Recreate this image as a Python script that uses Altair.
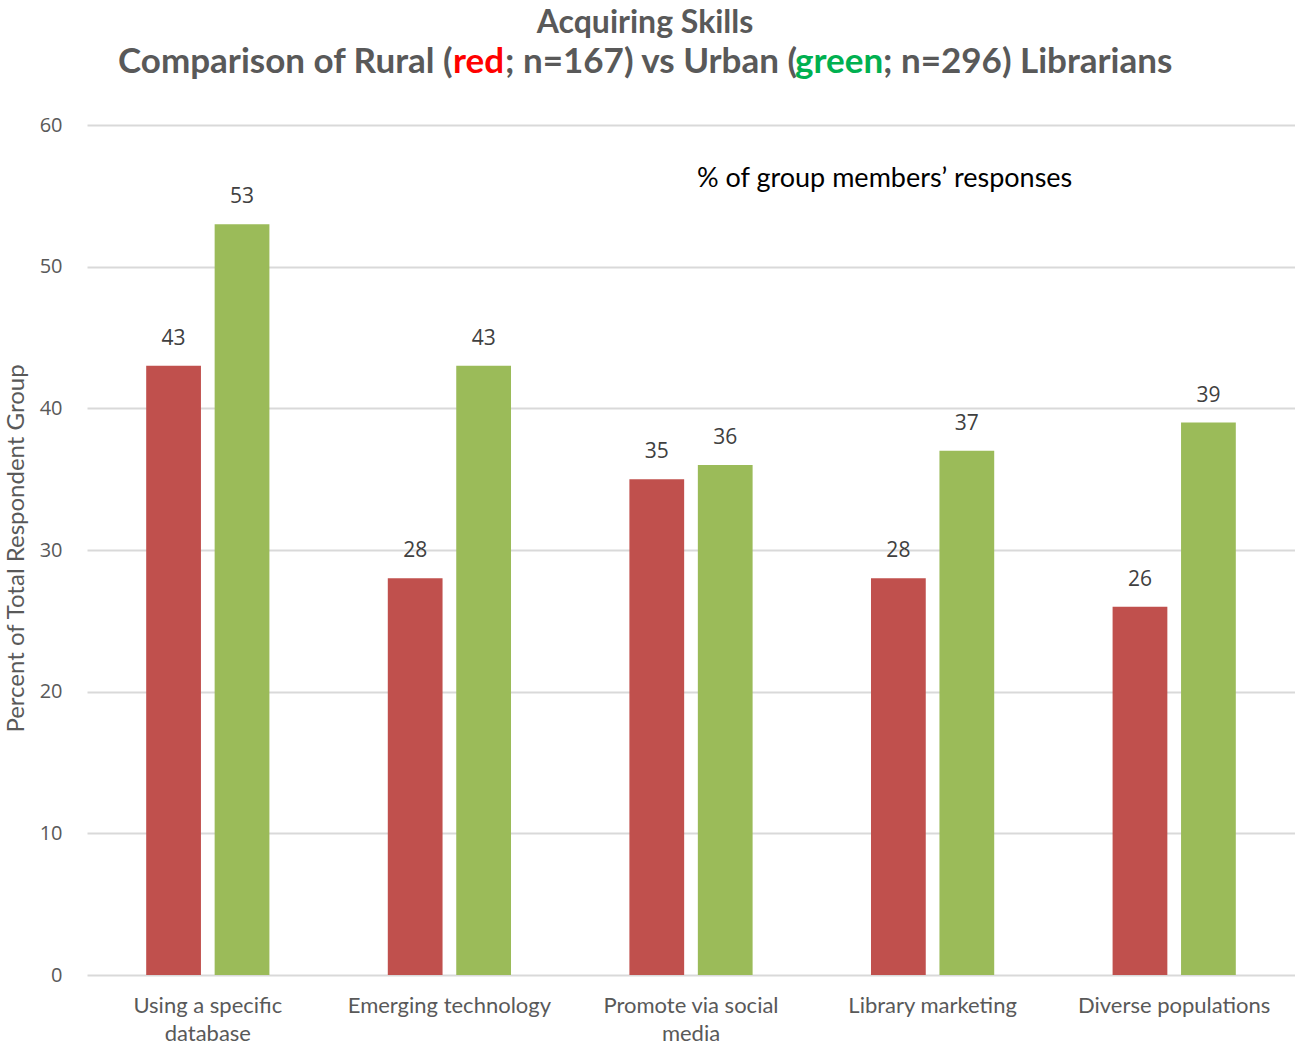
import altair as alt
import pandas as pd

# Skill areas and the share of each librarian group citing them
categories = [
    "Using a specific|database",
    "Emerging  technology",
    "Promote via social|media",
    "Library marketing",
    "Diverse populations",
]
rural = [43, 28, 35, 28, 26]
urban = [53, 43, 36, 37, 39]
groups = ["Rural", "Urban"]
group_colors = ["#C0504D", "#9BBB59"]

rows = []
for cat, r, u in zip(categories, rural, urban):
    rows.append({"category": cat, "group": "Rural", "value": r})
    rows.append({"category": cat, "group": "Urban", "value": u})
df = pd.DataFrame(rows)

GRAY = "#595959"
LABEL_FONT = "Lato"

base = alt.Chart(df).encode(
    x=alt.X(
        "category:N",
        sort=categories,
        scale=alt.Scale(paddingInner=0.49, paddingOuter=0.245),
        axis=alt.Axis(
            title=None,
            labelAngle=0,
            labelExpr="split(datum.label, '|')",
            labelFont=LABEL_FONT,
            labelFontSize=22,
            labelColor=GRAY,
            labelPadding=20,
            labelLineHeight=28,
            labelLimit=0,
            domain=False,
            ticks=False,
        ),
    ),
    xOffset=alt.XOffset("group:N", sort=groups, scale=alt.Scale(paddingInner=0.2)),
    y=alt.Y(
        "value:Q",
        scale=alt.Scale(domain=[0, 60], nice=False),
        axis=alt.Axis(
            values=[0, 10, 20, 30, 40, 50, 60],
            title="Percent  of Total Respondent  Group",
            titleFont=LABEL_FONT,
            titleFontSize=24,
            titleFontWeight="normal",
            titleColor=GRAY,
            titleX=-71,
            titleY=423,
            titleAngle=-90,
            titleAlign="center",
            titleBaseline="middle",
            labelFont="Open Sans",
            labelFontSize=20,
            labelColor=GRAY,
            labelPadding=25,
            grid=True,
            gridColor="#d9d9d9",
            gridWidth=2,
            domain=False,
            ticks=False,
        ),
    ),
)

bars = base.mark_bar().encode(
    color=alt.Color(
        "group:N",
        sort=groups,
        scale=alt.Scale(domain=groups, range=group_colors),
        legend=None,
    )
)

value_labels = base.mark_text(
    baseline="alphabetic", dy=-21, font="Open Sans", fontSize=21, color="#404040"
).encode(text=alt.Text("value:Q"))


def caption(text, x, y, color=GRAY, size=35, weight="bold", align="left", font=LABEL_FONT):
    return alt.Chart(pd.DataFrame({"t": [text]})).mark_text(
        align=align,
        baseline="alphabetic",
        font=font,
        fontSize=size,
        fontWeight=weight,
        color=color,
    ).encode(text="t:N", x=alt.value(x), y=alt.value(y))


title_parts = [
    caption("Acquiring Skills", 558, -92, size=32, align="center"),
    caption("Comparison of Rural (", 31, -52),
    caption("red", 366, -52, color="#FF0000"),
    caption("; n=167) vs Urban (", 418, -52),
    caption("green", 708, -52, color="#00B050"),
    caption("; n=296) Librarians", 796, -52),
]

note = caption(
    "% of group members\u2019 responses", 610, 62, color="#000000", size=27,
    weight="normal",
)

chart = alt.layer(bars, value_labels, note, *title_parts).properties(
    width=1208,
    height=850,
    background="white",
    autosize=alt.AutoSizeParams(type="none"),
    padding={"left": 87, "top": 125, "right": 0, "bottom": 73},
).configure_view(stroke=None)

chart.save("out.html", embed_options={"renderer": "svg", "actions": False})
